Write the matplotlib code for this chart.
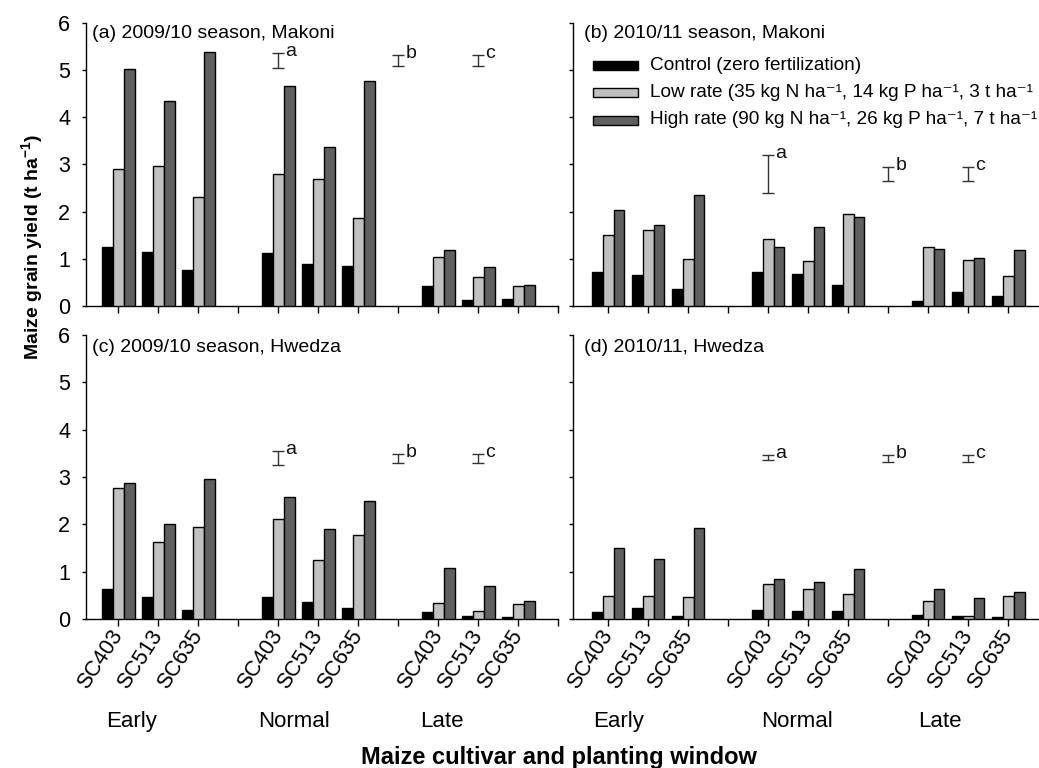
import matplotlib
matplotlib.use("Agg")
import matplotlib.pyplot as plt
from matplotlib.patches import Rectangle
import numpy as np

plt.rcParams['font.family'] = ['Liberation Sans', 'DejaVu Sans']
plt.rcParams['mathtext.fontset'] = 'custom'
plt.rcParams['mathtext.rm'] = 'Liberation Sans'
plt.rcParams['mathtext.it'] = 'Liberation Sans:italic'
plt.rcParams['mathtext.bf'] = 'Liberation Sans:bold'

# ---------------- data ----------------
cultivars = ['SC403', 'SC513', 'SC635']
windows = ['Early', 'Normal', 'Late']
series_names = ['Control (zero fertilization)',
                'Low rate (35 kg N ha\u207b\u00b9, 14 kg P ha\u207b\u00b9, 3 t ha\u207b\u00b9 manure)',
                'High rate (90 kg N ha\u207b\u00b9, 26 kg P ha\u207b\u00b9, 7 t ha\u207b\u00b9 manure)']
series_colors = ['#000000', '#c0c0c0', '#606060']

panel_titles = ['(a) 2009/10 season, Makoni', '(b) 2010/11 season, Makoni',
                '(c) 2009/10 season, Hwedza', '(d) 2010/11, Hwedza']

# order: Early SC403, SC513, SC635, Normal SC403, SC513, SC635, Late SC403, SC513, SC635
control_a = [1.26, 1.14, 0.76, 1.12, 0.90, 0.84, 0.42, 0.13, 0.14]
low_a = [2.91, 2.96, 2.31, 2.80, 2.70, 1.87, 1.04, 0.61, 0.43]
high_a = [5.03, 4.35, 5.37, 4.66, 3.37, 4.76, 1.19, 0.83, 0.45]

control_b = [0.71, 0.65, 0.37, 0.73, 0.68, 0.44, 0.10, 0.29, 0.21]
low_b = [1.50, 1.62, 0.99, 1.41, 0.96, 1.95, 1.25, 0.97, 0.63]
high_b = [2.04, 1.72, 2.35, 1.26, 1.67, 1.88, 1.21, 1.01, 1.19]

control_c = [0.64, 0.47, 0.19, 0.47, 0.35, 0.23, 0.14, 0.06, 0.04]
low_c = [2.77, 1.63, 1.94, 2.11, 1.25, 1.78, 0.33, 0.16, 0.31]
high_c = [2.87, 2.01, 2.96, 2.57, 1.91, 2.50, 1.08, 0.70, 0.39]

control_d = [0.15, 0.23, 0.07, 0.19, 0.16, 0.16, 0.08, 0.07, 0.04]
low_d = [0.48, 0.49, 0.46, 0.73, 0.64, 0.53, 0.37, 0.07, 0.49]
high_d = [1.51, 1.27, 1.92, 0.85, 0.79, 1.06, 0.63, 0.44, 0.58]

# LSD bars (a, b, c): lower and upper ends
lsd_letters = ['a', 'b', 'c']
lsd_pos = [4, 7, 9]
lsd_low_a = [5.05, 5.09, 5.09]; lsd_high_a = [5.35, 5.31, 5.31]
lsd_low_b = [2.40, 2.65, 2.65]; lsd_high_b = [3.19, 2.94, 2.94]
lsd_low_c = [3.25, 3.30, 3.30]; lsd_high_c = [3.55, 3.49, 3.49]
lsd_low_d = [3.35, 3.32, 3.32]; lsd_high_d = [3.46, 3.47, 3.47]

panels = [
    (control_a, low_a, high_a, lsd_low_a, lsd_high_a),
    (control_b, low_b, high_b, lsd_low_b, lsd_high_b),
    (control_c, low_c, high_c, lsd_low_c, lsd_high_c),
    (control_d, low_d, high_d, lsd_low_d, lsd_high_d),
]

# ---------------- layout ----------------
W, H = 1039, 768
fig = plt.figure(figsize=(W / 100, H / 100), dpi=100)

def fx(px):
    return px / W

def fy(py):
    return 1 - py / H

unit = 40.0  # px per category slot
# (left px, top px, bottom px, xmin)
boxes = [
    (86, 22.7, 306, -0.81),
    (572.5, 22.7, 306, -0.895),
    (86, 335, 619, -0.81),
    (572.5, 335, 619, -0.895),
]
xmax = 11.0
bar_w = 0.27
cat_pos = [g * 4 + c for g in range(3) for c in range(3)]

axes = []
for i, (left, top, bottom, xmin) in enumerate(boxes):
    width = (xmax - xmin) * unit
    ax = fig.add_axes([fx(left), fy(bottom), fx(width), (bottom - top) / H])
    ax.set_xlim(xmin, xmax)
    ax.set_ylim(0, 6)
    for s in ['top', 'right']:
        ax.spines[s].set_visible(False)
    for s in ['left', 'bottom']:
        ax.spines[s].set_linewidth(1.0)
        ax.spines[s].set_color('#000000')
    ctrl, low, high, lo, hi = panels[i]
    x = np.array(cat_pos, dtype=float)
    for k, (vals, col) in enumerate(zip([ctrl, low, high], series_colors)):
        ax.bar(x + (k - 1) * bar_w, vals, width=bar_w, color=col,
               edgecolor='black', linewidth=1.0, label=series_names[k], zorder=3)
    lo = np.array(lo); hi = np.array(hi)
    mid = (lo + hi) / 2
    half = (hi - lo) / 2
    ax.errorbar(lsd_pos, mid, yerr=half, fmt='none', ecolor='#333333',
                elinewidth=1.0, capsize=4, capthick=1.0, zorder=4)
    for p, t, letter in zip(lsd_pos, hi, lsd_letters):
        ax.annotate(letter, (p, t), xytext=(7, -3), textcoords='offset pixels',
                    ha='left', va='baseline', fontsize=14, color='#111111')
    ax.set_yticks(range(0, 7))
    ax.set_xticks(range(0, 12))
    ax.tick_params(axis='y', direction='out', length=3, width=1.0, pad=8.5,
                   labelsize=15.5)
    ax.tick_params(axis='x', direction='out', length=5, width=1.0, pad=4.5,
                   labelsize=15.5)
    if i in (0, 2):
        ax.set_yticklabels([str(v) for v in range(0, 7)])
    else:
        ax.set_yticklabels([])
    if i in (2, 3):
        labels = [''] * 12
        for pos, (g, c) in zip(cat_pos, [(g, c) for g in range(3) for c in range(3)]):
            labels[pos] = cultivars[c]
        ax.set_xticklabels(labels, rotation=57, ha='right', va='center',
                           rotation_mode='anchor')
    else:
        ax.set_xticklabels([])
    axes.append(ax)

# panel titles
title_xy = [(92.3, 33.8), (584, 33.8), (92.3, 347.5), (584, 347.5)]
for (tx, ty), t in zip(title_xy, panel_titles):
    fig.text(fx(tx), fy(ty), t, fontsize=14, ha='left', va='center')

# planting window labels under bottom panels
win_x = [[132, 294, 442], [619, 797, 940]]
for row in win_x:
    for px, w in zip(row, windows):
        fig.text(fx(px), fy(727), w, fontsize=16, ha='center', va='baseline')

# legend (drawn manually in panel b area)
leg_y = [65.7, 92.7, 120.0]
for yy, col, name in zip(leg_y, series_colors, series_names):
    fig.add_artist(Rectangle((fx(593), fy(yy + 4.5)), fx(45), 9 / H,
                             transform=fig.transFigure, facecolor=col,
                             edgecolor='black', linewidth=1.0))
    fig.text(fx(650), fy(yy), name, fontsize=13.7, ha='left', va='center')

# axis labels
fig.text(fx(559), fy(764), 'Maize cultivar and planting window', fontsize=17,
         fontweight='bold', ha='center', va='baseline')
fig.text(fx(32), fy(247), 'Maize grain yield (t ha$^{\\mathbf{-1}}$)', fontsize=14,
         fontweight='bold', ha='center', va='center', rotation=90)

fig.savefig('out.png', dpi=100)
